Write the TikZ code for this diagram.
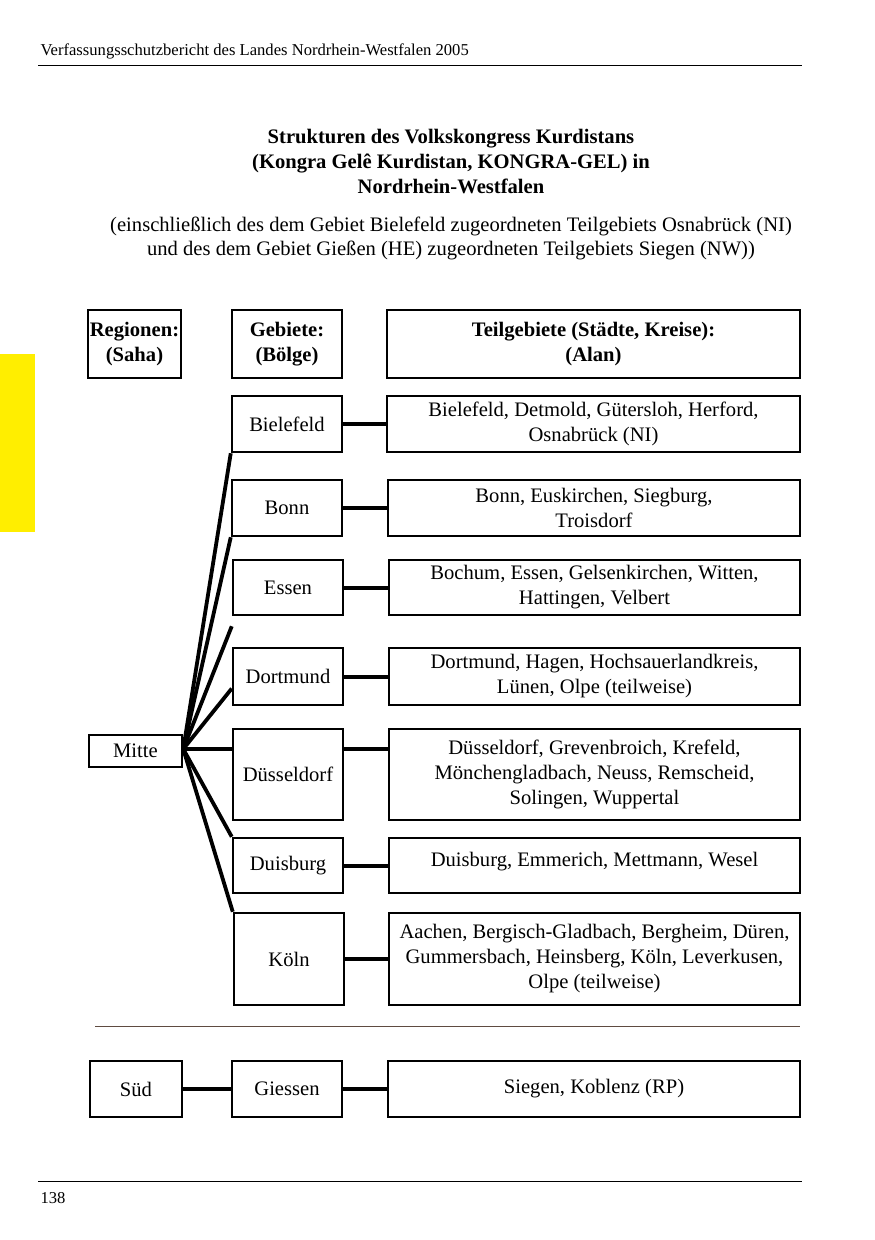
\documentclass[tikz,border=0pt]{standalone}
\usepackage{fontspec}
\setmainfont{Liberation Serif}
\usetikzlibrary{calc}
\definecolor{seitengelb}{RGB}{255,238,0}
\definecolor{trennbraun}{RGB}{95,75,65}

\begin{document}
\begin{tikzpicture}[x=1pt, y=-1pt,
    box/.style={draw, line width=2.5pt, inner sep=0pt, align=center,
        font=\fontsize{20.6}{25}\selectfont},
    kopf/.style={box, font=\bfseries\fontsize{20.6}{25}\selectfont},
    gebiet/.style={box, minimum width=110, minimum height=56},
    teil/.style={box, minimum width=411, minimum height=56},
    link/.style={line width=4pt},
    fan/.style={line width=3.8pt}]
\useasboundingbox (0,0) rectangle (875,1240);

%%% Seite
\fill[seitengelb] (0,354) rectangle (35,532);
\node[anchor=base west, font=\fontsize{16.6}{20}\selectfont] (seitenkopf) at (37,55)
    {Verfassungsschutzbericht des Landes Nordrhein-Westfalen 2005};
\draw[line width=1pt] (38,65) -- (802,65);
\draw[line width=1pt] (38,1181) -- (802,1181);
\node[anchor=base west, font=\fontsize{16.6}{20}\selectfont] (seitenzahl) at (37,1203) {138};

%%% Titel
\node[align=center, font=\bfseries\fontsize{20.6}{25}\selectfont] (titel) at (451,162)
    {Strukturen des Volkskongress Kurdistans\\(Kongra Gelê Kurdistan, KONGRA-GEL) in\\Nordrhein-Westfalen};
\node[align=center, font=\fontsize{20.6}{24}\selectfont] (untertitel) at (451,238)
    {(einschließlich des dem Gebiet Bielefeld zugeordneten Teilgebiets Osnabrück (NI)\\und des dem Gebiet Gießen (HE) zugeordneten Teilgebiets Siegen (NW))};

%%% Kopfzeile
\node[kopf, minimum width=93, minimum height=68] (regionen) at (134.5,344) {Regionen:\\(Saha)};
\node[kopf, minimum width=110, minimum height=68] (gebiete) at (287,344) {Gebiete:\\(Bölge)};
\node[kopf, minimum width=413, minimum height=68] (teilgebiete) at (593.5,344) {Teilgebiete (Städte, Kreise):\\(Alan)};

%%% Mitte
\node[box, minimum width=93, minimum height=32] (mitte) at (135.5,751) {Mitte};

\node[gebiet] (bielefeld) at (287,424) {Bielefeld};
\node[teil, minimum width=413] (tbielefeld) at (593.5,424) {Bielefeld, Detmold, Gütersloh, Herford,\\Osnabrück (NI)};

\node[gebiet] (bonn) at (287,508) {Bonn};
\node[teil, minimum width=412] (tbonn) at (594,508) {Bonn, Euskirchen, Siegburg,\\Troisdorf};

\node[gebiet, minimum height=55] (essen) at (288,587.5) {Essen};
\node[teil, minimum height=55] (tessen) at (594.5,587.5) {Bochum, Essen, Gelsenkirchen, Witten,\\Hattingen, Velbert};

\node[gebiet, minimum height=57] (dortmund) at (288,676.5) {Dortmund};
\node[teil, minimum height=57] (tdortmund) at (594.5,676.5) {Dortmund, Hagen, Hochsauerlandkreis,\\Lünen, Olpe (teilweise)};

\node[gebiet, minimum height=91, text depth=0pt] (duesseldorf) at (288,774.5) {Düsseldorf};
\node[teil, minimum height=91] (tduesseldorf) at (594.5,774.5) {Düsseldorf, Grevenbroich, Krefeld,\\Mönchengladbach, Neuss, Remscheid,\\Solingen, Wuppertal};

\node[gebiet, minimum height=55] (duisburg) at (288,865.5) {Duisburg};
\node[teil, minimum height=55, text depth=12pt] (tduisburg) at (594.5,865.5) {Duisburg, Emmerich, Mettmann, Wesel};

\node[gebiet, minimum height=92] (koeln) at (289,959) {Köln};
\node[teil, minimum height=92] (tkoeln) at (594.5,959) {Aachen, Bergisch-Gladbach, Bergheim, Düren,\\Gummersbach, Heinsberg, Köln, Leverkusen,\\Olpe (teilweise)};

% Verbindungen Mitte
\coordinate (knoten) at ($(mitte.east)+(0,-2)$);
\draw[fan] (knoten) -- (bielefeld.south west);
\draw[fan] (knoten) -- (bonn.south west);
\draw[fan] (knoten) -- ([yshift=-10pt]essen.south west);
\draw[fan] (knoten) -- ([yshift=-12pt]dortmund.west);
\draw[link] (knoten) -- (knoten -| duesseldorf.west);
\draw[fan] (knoten) -- (duisburg.north west);
\draw[fan] (knoten) -- (koeln.north west);

\draw[link] (bielefeld) -- (tbielefeld);
\draw[link] (bonn) -- (tbonn);
\draw[link] (essen) -- (tessen);
\draw[link] (dortmund) -- (tdortmund);
\draw[link] (knoten -| duesseldorf.east) -- (knoten -| tduesseldorf.west);
\draw[link] (duisburg) -- (tduisburg);
\draw[link] (koeln) -- (tkoeln);

%%% Trennlinie
\draw[trennbraun, line width=1pt] (95,1026) -- (800,1026);

%%% Süd
\node[box, minimum width=92, minimum height=56] (sued) at (136,1089) {Süd};
\node[gebiet] (giessen) at (287,1089) {Giessen};
\node[teil, minimum width=412] (tgiessen) at (594,1089) {Siegen, Koblenz (RP)};

\draw[link] (sued) -- (giessen);
\draw[link] (giessen) -- (tgiessen);
\end{tikzpicture}
\end{document}
